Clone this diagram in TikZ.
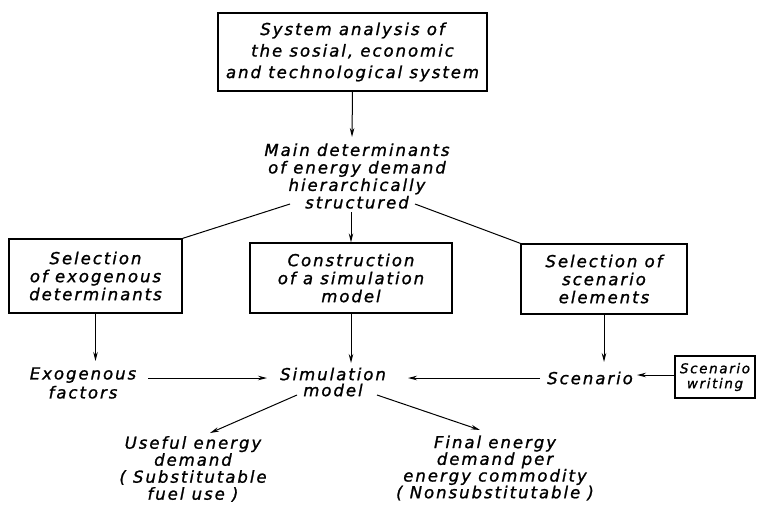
\documentclass[tikz,border=0pt]{standalone}
\usepackage{fontspec}
\newfontfamily\hand[LetterSpace=12,FakeBold=1.2]{DejaVu Sans}
\usetikzlibrary{arrows.meta}
\begin{document}
\begin{tikzpicture}[x=1pt,y=-1pt,
  txt/.style={font=\hand\itshape\fontsize{16.5}{18}\selectfont, align=center, inner sep=2pt},
  box/.style={draw, line width=1.3pt, txt},
  ln/.style={line width=1pt},
  arr/.style={ln, -{Stealth[length=9pt,width=4.5pt]}}]
\useasboundingbox (0,0) rectangle (757,504);
% boxes
\node[box, minimum width=269pt, minimum height=78pt, font=\hand\itshape\fontsize{16.5}{21.5}\selectfont] (top) at (352.5,52) {System analysis of\\the sosial, economic\\and technological system};
\node[txt, font=\hand\itshape\fontsize{16.5}{17.5}\selectfont] (main) at (357,176) {Main determinants\\of energy demand\\hierarchically\\structured};
\node[box, minimum width=173pt, minimum height=74pt] (left) at (95.5,276) {Selection\\of exogenous\\determinants};
\node[box, minimum width=202pt, minimum height=70pt] (cons) at (351,278) {Construction\\of a simulation\\model};
\node[box, minimum width=166pt, minimum height=70pt] (right) at (604,279) {Selection of\\scenario\\elements};
\node[box, minimum width=80pt, minimum height=42pt, font=\hand\itshape\fontsize{13.5}{15}\selectfont] (sw) at (715,377) {Scenario\\writing};
% plain texts
\node[txt, font=\hand\itshape\fontsize{16.5}{19}\selectfont] (exo) at (83,383) {Exogenous\\factors};
\node[txt, font=\hand\itshape\fontsize{16.5}{16}\selectfont] (sim) at (333,382) {Simulation\\model};
\node[txt] (scen) at (590,378) {Scenario};
\node[txt, font=\hand\itshape\fontsize{16.5}{17}\selectfont] (use) at (193,469) {Useful energy\\demand\\( Substitutable\\fuel use )};
\node[txt, font=\hand\itshape\fontsize{16.5}{16.7}\selectfont] (fin) at (495,468) {Final energy\\demand per\\energy commodity\\( Nonsubstitutable )};
% coordinates for free ends
\coordinate (mL) at (290,204);
\coordinate (mR) at (415,204);
\coordinate (exoR) at (148,378);
\coordinate (simL) at (267,378);
\coordinate (simR) at (408,378);
\coordinate (scenL) at (540,378);
\coordinate (scenR) at (637,375);
\coordinate (simBL) at (297,395);
\coordinate (simBR) at (377,395);
\coordinate (useT) at (210,433);
\coordinate (finT) at (480,430);
% connectors
\draw[arr] (top.south) -- (352,137);
\draw[ln] (mL) -- (left.north east);
\draw[ln] (mR) -- (right.north west);
\draw[arr] (cons.north |- 0,212) -- (cons.north);
\draw[arr] (left.south) -- (left.south |- 0,361);
\draw[arr] (cons.south) -- (cons.south |- 0,363);
\draw[arr] (right.south) -- (right.south |- 0,362);
\draw[arr] (exoR) -- (simL);
\draw[arr] (scenL) -- (simR);
\draw[arr] (sw.west |- scenR) -- (scenR);
\draw[arr] (simBL) -- (useT);
\draw[arr] (simBR) -- (finT);
\end{tikzpicture}
\end{document}
